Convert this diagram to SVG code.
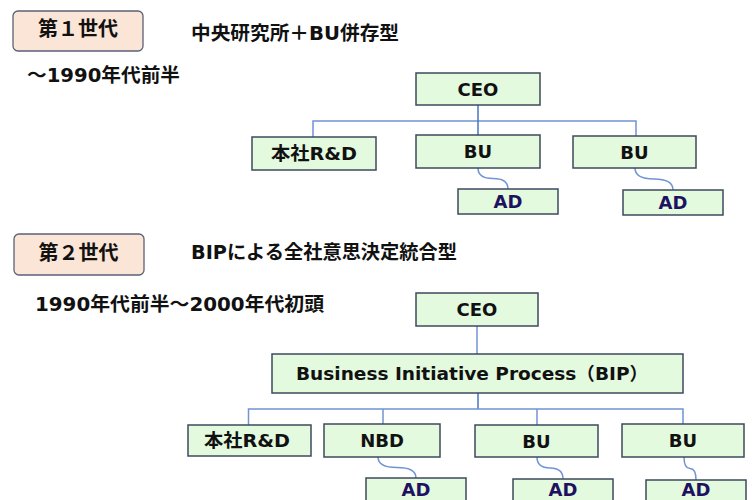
<svg xmlns="http://www.w3.org/2000/svg" width="755" height="500" viewBox="0 0 755 500">
<style>
.hdr{fill:#FBE5D6;stroke:#5A6275;stroke-width:1.3}
.node{fill:#E3FADF;stroke:#3E4A5C;stroke-width:1.5}
.t{font-family:"DejaVu Sans","Noto Sans CJK JP",sans-serif;font-weight:bold;font-size:18px;fill:#111;text-anchor:middle}
.ad{fill:#1E1260}
.h{font-family:"DejaVu Sans","Noto Sans CJK JP",sans-serif;font-weight:bold;font-size:19px;fill:#111}
.g{font-family:"Noto Sans CJK JP",sans-serif;font-weight:bold;font-size:20px;fill:#111;text-anchor:middle}
.c{fill:none;stroke:#7094D4;stroke-width:1.5}
.cd{fill:none;stroke:#4A74C4;stroke-width:1.5}
</style>
<rect width="755" height="500" fill="#fff"/>
<g id="gen1-label">
<rect class="hdr" x="13" y="11" width="130" height="40" rx="5"/>
<text class="g" x="78" y="36">第１世代</text>
</g>
<text class="h" x="191" y="39.5" textLength="208" lengthAdjust="spacingAndGlyphs">中央研究所＋BU併存型</text>
<text class="h" x="27" y="81.5" textLength="153" lengthAdjust="spacingAndGlyphs">～1990年代前半</text>
<g id="gen2-label">
<rect class="hdr" x="14" y="234" width="130" height="41" rx="5"/>
<text class="g" x="78.5" y="259.5">第２世代</text>
</g>
<text class="h" x="191" y="259" textLength="266" lengthAdjust="spacingAndGlyphs">BIPによる全社意思決定統合型</text>
<text class="h" x="35" y="311" textLength="289" lengthAdjust="spacingAndGlyphs">1990年代前半～2000年代初頭</text>
<g id="connectors">
<path class="c" d="M313,137 V121 H636 V136"/>
<path class="cd" d="M478,105 V135"/>
<path class="c" d="M478,168 Q478,178.5 493,178.5 T508,189"/>
<path class="c" d="M635,168 Q635,179 654,179 T673,190"/>
<path class="c" d="M477,326 V354"/>
<path class="cd" d="M478,393 V409"/>
<path class="c" d="M248.5,425 V409 H683 V424"/>
<path class="c" d="M383,409 V424"/>
<path class="c" d="M537,409 V425"/>
<path class="c" d="M378,457 Q378,467.5 397,467.5 T416,478"/>
<path class="c" d="M537,457 Q537,468 550,468 T563,479"/>
<path class="c" d="M684,457 Q684,468.5 690,468.5 T696,480"/>
</g>
<g id="g1-ceo"><rect class="node" x="416" y="73" width="124" height="32"/><text class="t" x="478" y="95.5">CEO</text></g>
<g id="g1-rd"><rect class="node" x="252" y="137" width="124" height="33"/><text class="t" x="314" y="160" textLength="86" lengthAdjust="spacingAndGlyphs">本社R&amp;D</text></g>
<g id="g1-bu1"><rect class="node" x="416" y="135" width="124" height="33"/><text class="t" x="478" y="158">BU</text></g>
<g id="g1-bu2"><rect class="node" x="573" y="136" width="123" height="32"/><text class="t" x="634.5" y="158.5">BU</text></g>
<g id="g1-ad1"><rect class="node" x="458" y="189" width="100" height="25"/><text class="t ad" x="508" y="208">AD</text></g>
<g id="g1-ad2"><rect class="node" x="623" y="190" width="100" height="25"/><text class="t ad" x="673" y="209">AD</text></g>
<g id="g2-ceo"><rect class="node" x="416" y="293" width="122" height="33"/><text class="t" x="477" y="316">CEO</text></g>
<g id="g2-bip"><rect class="node" x="272" y="354" width="411" height="39"/><text class="t" x="472" y="380" textLength="352" lengthAdjust="spacingAndGlyphs">Business Initiative Process（BIP）</text></g>
<g id="g2-rd"><rect class="node" x="188" y="425" width="123" height="31"/><text class="t" x="247" y="447" textLength="86" lengthAdjust="spacingAndGlyphs">本社R&amp;D</text></g>
<g id="g2-nbd"><rect class="node" x="324" y="424" width="116" height="33"/><text class="t" x="382" y="447">NBD</text></g>
<g id="g2-bu1"><rect class="node" x="475" y="425" width="123" height="32"/><text class="t" x="536.5" y="447.5">BU</text></g>
<g id="g2-bu2"><rect class="node" x="622" y="424" width="122" height="33"/><text class="t" x="683" y="447">BU</text></g>
<g id="g2-ad1"><rect class="node" x="366" y="478" width="100" height="30"/><text class="t ad" x="416" y="496">AD</text></g>
<g id="g2-ad2"><rect class="node" x="513" y="479" width="100" height="30"/><text class="t ad" x="563" y="496">AD</text></g>
<g id="g2-ad3"><rect class="node" x="646" y="480" width="100" height="30"/><text class="t ad" x="696" y="496">AD</text></g>
</svg>
